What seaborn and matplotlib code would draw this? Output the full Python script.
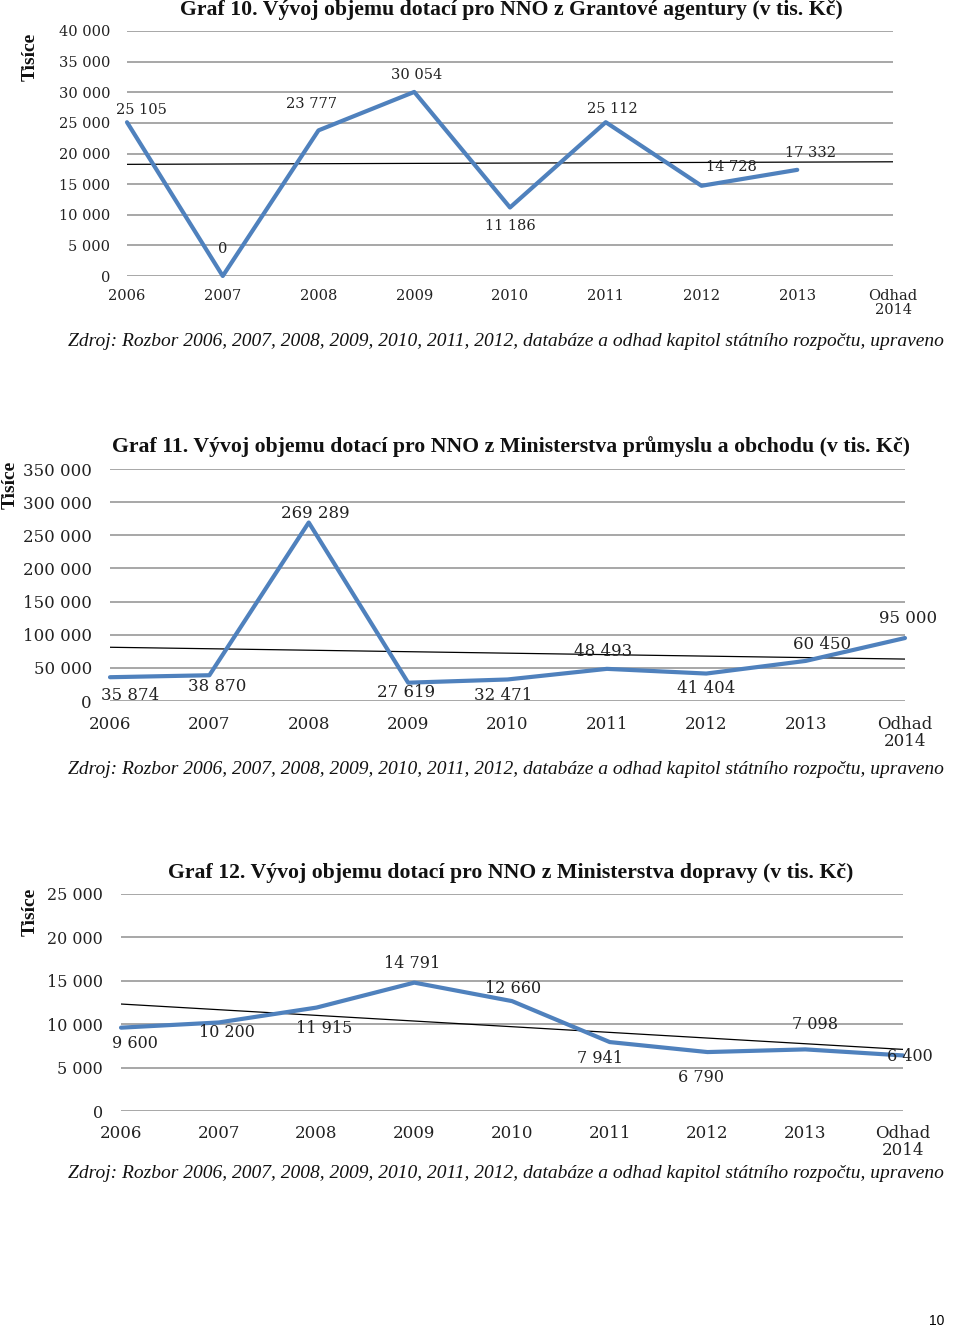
import numpy as np
import pandas as pd
import matplotlib
matplotlib.use("Agg")
import matplotlib.pyplot as plt
import seaborn as sns

# ---------------- data ----------------
categories = ["2006", "2007", "2008", "2009", "2010", "2011", "2012", "2013", "Odhad\n2014"]

ga_values = [25105, 0, 23777, 30054, 11186, 25112, 14728, 17332, np.nan]
mpo_values = [35874, 38870, 269289, 27619, 32471, 48493, 41404, 60450, 95000]
md_values = [9600, 10200, 11915, 14791, 12660, 7941, 6790, 7098, 6400]

ga_ticks = [0, 5000, 10000, 15000, 20000, 25000, 30000, 35000, 40000]
mpo_ticks = [0, 50000, 100000, 150000, 200000, 250000, 300000, 350000]
md_ticks = [0, 5000, 10000, 15000, 20000, 25000]

titles = [
    "Graf 10. Vývoj objemu dotací pro NNO z Grantové agentury (v tis. Kč)",
    "Graf 11. Vývoj objemu dotací pro NNO z Ministerstva průmyslu a obchodu (v tis. Kč)",
    "Graf 12. Vývoj objemu dotací pro NNO z Ministerstva dopravy (v tis. Kč)",
]
source_text = ("Zdroj: Rozbor 2006, 2007, 2008, 2009, 2010, 2011, 2012, databáze a odhad "
               "kapitol státního rozpočtu, upraveno")
ylabel_text = "Tisíce"
page_number = "10"

# ---------------- styling / layout ----------------
sns.set_theme(style="white")
plt.rcParams["font.family"] = ["DejaVu Serif", "DejaVu Sans"]

LINE_COLOR = "#4F81BD"
GRID_COLOR = "#a0a0a0"
W, H = 960, 1326

fig = plt.figure(figsize=(W / 100, H / 100), dpi=100)


def px_axes(left, right, top, bottom):
    return fig.add_axes([left / W, 1 - bottom / H, (right - left) / W, (bottom - top) / H])


def fmt(v):
    return f"{int(v):,}".replace(",", " ")


specs = [
    dict(box=(127, 893, 31, 276), values=ga_values, ticks=ga_ticks, ytick_fs=10.5, xtick_fs=10.5,
         lab_fs=10.5, ypad=12, xpad=9, ylab=(30, 57), title_y=10, src_y=342,
         offsets=[(14, 12), (0, 27), (-7, 26), (2, 17), (0, -19), (7, 13), (30, 19), (13, 17), (0, 0)]),
    dict(box=(110, 905, 469, 701), values=mpo_values, ticks=mpo_ticks, ytick_fs=12, xtick_fs=12,
         lab_fs=12, ypad=13, xpad=11, ylab=(10, 485), title_y=447, src_y=769,
         offsets=[(20, -18), (8, -11), (7, 9), (-2, -10), (-4, -16), (-4, 17), (0, -15), (16, 16), (3, 20)]),
    dict(box=(121, 903, 894, 1111), values=md_values, ticks=md_ticks, ytick_fs=11.5, xtick_fs=12,
         lab_fs=11.5, ypad=13, xpad=10, ylab=(30, 912), title_y=873, src_y=1174,
         offsets=[(14, -16), (8, -10), (8, -21), (-2, 19), (1, 13), (-10, -16), (-7, -25), (10, 25), (7, -1)]),
]

for spec, title in zip(specs, titles):
    ax = px_axes(*spec["box"])
    xs = np.arange(len(categories))
    df = pd.DataFrame({"x": xs, "y": spec["values"]})

    # horizontal gridlines
    for t in spec["ticks"]:
        ax.axhline(t, color=GRID_COLOR, lw=1.3, zorder=0)

    # linear trend (Excel-like) over the available points
    d = df.dropna()
    coef = np.polyfit(d["x"], d["y"], 1)
    ax.plot(xs, np.polyval(coef, xs), color="black", lw=0.9, zorder=2)

    sns.lineplot(data=df, x="x", y="y", ax=ax, color=LINE_COLOR, linewidth=3.0,
                 zorder=3, clip_on=False)

    for (xi, yi), (dx, dy) in zip(zip(xs, spec["values"]), spec["offsets"]):
        if np.isnan(yi):
            continue
        ax.annotate(fmt(yi), (xi, yi), xytext=(dx, dy), textcoords="offset pixels",
                    ha="center", va="center", fontsize=spec["lab_fs"], color="#222222")

    ax.set_xlim(0, len(categories) - 1)
    ax.set_ylim(spec["ticks"][0], spec["ticks"][-1])
    ax.set_yticks(spec["ticks"])
    ax.set_yticklabels([fmt(t) for t in spec["ticks"]], fontsize=spec["ytick_fs"])
    ax.set_xticks(xs)
    ax.set_xticklabels(categories, fontsize=spec["xtick_fs"], linespacing=1.0)
    ax.tick_params(axis="y", length=0, pad=spec["ypad"], colors="#222222")
    ax.tick_params(axis="x", length=0, pad=spec["xpad"], colors="#222222")
    for s in ax.spines.values():
        s.set_visible(False)
    ax.set_xlabel("")
    ax.set_ylabel("")
    ax.patch.set_alpha(0)

    lx, ly = spec["ylab"]
    fig.text(lx / W, 1 - ly / H, ylabel_text, rotation=90, ha="center", va="center",
             fontsize=14, fontweight="bold", family="Liberation Serif", color="#111111")

    fig.text(511 / W, 1 - spec["title_y"] / H, title, ha="center", va="center",
             fontsize=15.7, fontweight="bold", family="Liberation Serif", color="#111111")
    fig.text(68 / W, 1 - spec["src_y"] / H, source_text, ha="left", va="center",
             fontsize=14.0, style="italic", family="Liberation Serif", color="#111111")

fig.text(937 / W, 1 - 1321 / H, page_number, ha="center", va="center", fontsize=10,
         family="Liberation Sans", color="black")

fig.savefig("out.png", dpi=100)
